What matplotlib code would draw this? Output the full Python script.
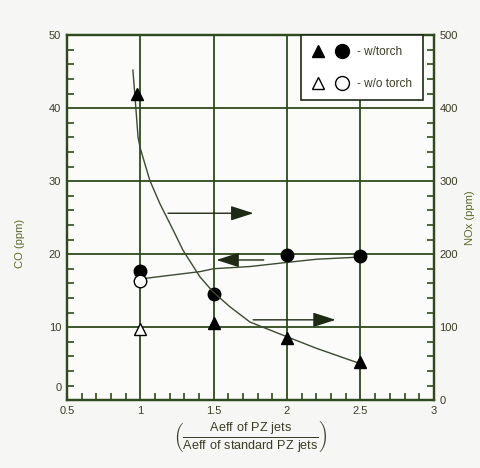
import matplotlib
matplotlib.use("Agg")
import matplotlib.pyplot as plt
from matplotlib.legend_handler import HandlerTuple
from matplotlib.ticker import MultipleLocator

plt.rcParams['font.family'] = ['Liberation Sans', 'DejaVu Sans']
plt.rcParams['mathtext.fontset'] = 'custom'
plt.rcParams['mathtext.rm'] = 'Liberation Sans'

# measured points
x_tri = [0.98, 1.5, 2.0, 2.5]
nox_torch = [420, 106, 85, 52]
x_tri_open = [1.0]
nox_no_torch = [98]

x_circ = [1.0, 1.5, 2.0, 2.5]
co_torch = [17.7, 14.6, 19.9, 19.7]
x_circ_open = [1.0]
co_no_torch = [16.3]

# fitted curves
x_nox_fit = [0.95, 0.97, 0.985, 1.0, 1.065, 1.134, 1.224, 1.292, 1.406, 1.497,
             1.61, 1.747, 1.997, 2.2, 2.47, 2.5]
nox_fit = [452, 400, 360, 345, 301, 269, 233, 205, 169, 148, 128, 107, 87, 71, 52, 51]
x_co_fit = [1.0, 1.406, 1.5, 1.747, 1.97, 2.2, 2.5]
co_fit = [16.6, 17.6, 18.0, 18.3, 18.8, 19.3, 19.6]

x_ticks = [0.5, 1, 1.5, 2, 2.5, 3]
x_tick_labels = ['0.5', '1', '1.5', '2', '2.5', '3']
co_ticks = [10, 20, 30, 40, 50]
nox_ticks = [0, 100, 200, 300, 400, 500]

green = '#2f4a1c'
text_c = '#3c3c28'

fig = plt.figure(figsize=(4.81, 4.68), dpi=100, facecolor='#f6f6f4')
ax = fig.add_axes([0.139, 0.145, 0.763, 0.78])
ax.set_facecolor('#fbfbfa')
ax2 = ax.twinx()

ax.set_xlim(0.5, 3)
ax.set_ylim(0, 50)
ax2.set_ylim(0, 500)

ax.set_xticks(x_ticks)
ax.set_xticklabels(x_tick_labels)
ax.set_yticks(co_ticks)
ax2.set_yticks(nox_ticks)
ax.xaxis.set_minor_locator(MultipleLocator(0.1))
ax.yaxis.set_minor_locator(MultipleLocator(2))
ax2.yaxis.set_minor_locator(MultipleLocator(20))

ax.grid(True, which='major', color=green, linewidth=1.3)
for a in (ax, ax2):
    for s in a.spines.values():
        s.set_color(green)
        s.set_linewidth(1.6)
for a in (ax, ax2):
    a.tick_params(which='both', direction='in', colors=green, labelcolor=text_c, labelsize=8, width=1.2)
    a.tick_params(which='major', length=0, pad=4)
    a.tick_params(which='minor', length=5)
ax.text(0.465, 1.0, '0', fontsize=8, color=text_c, ha='right', va='bottom')

# curves
ax2.plot(x_nox_fit, nox_fit, color='#3b4a30', linewidth=1.0)
ax.plot(x_co_fit, co_fit, color='#3b4a30', linewidth=1.0)

# markers
ax2.plot(x_tri, nox_torch, '^', color='black', markersize=9)
ax2.plot(x_tri_open, nox_no_torch, '^', mfc='white', mec='black', markersize=9)
ax.plot(x_circ, co_torch, 'o', color='black', markersize=9)
ax.plot(x_circ_open, co_no_torch, 'o', mfc='white', mec='black', markersize=9)

# arrows
arrow = dict(arrowstyle='-|>,head_length=1.4,head_width=0.45', color='#1e2a14', lw=1.0)
ax.annotate('', xy=(1.79, 25.6), xytext=(1.17, 25.6), arrowprops=arrow)
ax.annotate('', xy=(1.5, 19.2), xytext=(1.86, 19.2), arrowprops=arrow)
ax.annotate('', xy=(2.35, 11.0), xytext=(1.75, 11.0), arrowprops=arrow)

# legend
h1 = (plt.Line2D([], [], marker='^', ls='', color='black', markersize=9),
      plt.Line2D([], [], marker='o', ls='', color='black', markersize=10))
h2 = (plt.Line2D([], [], marker='^', ls='', mfc='white', mec='black', markersize=9),
      plt.Line2D([], [], marker='o', ls='', mfc='white', mec='black', markersize=10))
leg = ax2.legend([h1, h2], ['- w/torch', '- w/o torch'],
                 handler_map={tuple: HandlerTuple(ndivide=None, pad=0.9)},
                 loc='upper right', bbox_to_anchor=(0.97, 1.0), borderaxespad=0,
                 fancybox=False, framealpha=1, edgecolor='#1e2a14', fontsize=8.5,
                 labelspacing=1.7, handlelength=3.2, borderpad=0.9, handletextpad=0.7)
leg.get_frame().set_linewidth(1.2)
for t in leg.get_texts():
    t.set_color(text_c)

ax.set_ylabel('CO (ppm)', fontsize=8, color='#5a6a2a')
ax.yaxis.set_label_coords(-0.115, 0.43)
ax2.set_ylabel('NOx (ppm)', fontsize=8, color='#5a6a2a')
ax2.yaxis.set_label_coords(1.085, 0.5)
ax.set_xlabel(r'$\left(\frac{\mathrm{Aeff\ of\ PZ\ jets}}{\mathrm{Aeff\ of\ standard\ PZ\ jets}}\right)$',
              fontsize=13, color=text_c, labelpad=2)

fig.savefig('out.png', dpi=100, facecolor=fig.get_facecolor())
